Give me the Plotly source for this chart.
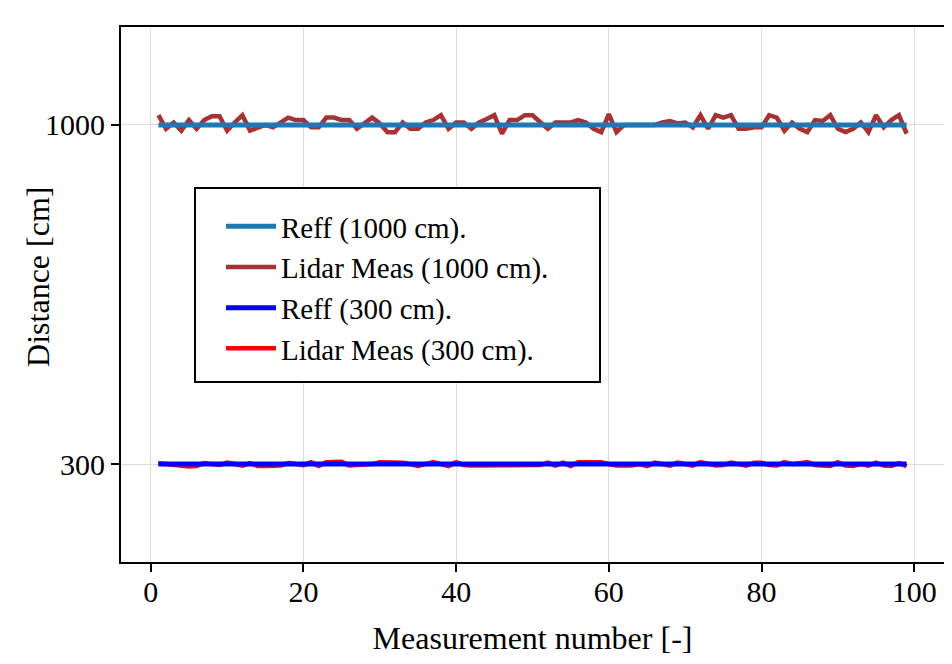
import plotly.graph_objects as go

measurement = list(range(1, 100))

ref_1000 = [1000] * 99
lidar_1000_dev = [
    20, -8, 5, -12, 10, -8, 10, 18, 18, -12, 5, 20, -12, -5, 0, -5, 5, 15, 10, 10,
    -5, -5, 15, 15, 10, 10, -8, 5, 15, 3, -15, -15, 5, -8, -8, 5, 10, 20, -8, 5,
    5, -8, 5, 12, 20, -18, 10, 10, 20, 20, 5, -8, 5, 5, 5, 10, 5, -8, -15, 22,
    -15, 0, 0, 0, 0, 0, 5, 8, 3, 5, -5, 20, -8, 20, 15, 20, -8, -8, -5, -5,
    20, 15, -12, 5, -8, -15, 10, 8, 20, -8, -15, -8, 5, -15, 20, -5, 10, 20, -18,
]
lidar_1000 = [1000 + d for d in lidar_1000_dev]

ref_300 = [300] * 99
lidar_300_dev = [
    2, 0, -3, -5, -5, -4, 2, 0, -2, 3, 0, -3, 2, -4, -4, -4, -3, 2, 0, -2,
    4, -4, 4, 4, 5, -3, -2, -3, 0, 4, 4, 4, 3, 0, -4, 0, 4, 0, -4, 4,
    -2, -3, -3, -3, -2, -3, -3, -3, -2, -2, -2, 3, -3, 3, -4, 4, 4, 4, 4, 0,
    -3, -3, -3, 0, -4, 3, 0, -3, 3, 0, -3, 4, 0, -3, -2, 3, 0, -3, 3, 3,
    -2, -3, 4, 0, 2, 4, -2, -3, -4, 4, -3, -4, 0, -3, 3, -3, -4, 2, -4,
]
lidar_300 = [300 + d for d in lidar_300_dev]

x_ticks = [0, 20, 40, 60, 80, 100]
y_ticks = [300, 1000]

font_family = "Liberation Serif, Times New Roman, serif"

fig = go.Figure()
fig.add_trace(go.Scatter(x=measurement, y=lidar_1000, mode="lines",
                         name="Lidar Meas (1000 cm).", legendrank=2,
                         line=dict(color="#a83232", width=4.5)))
fig.add_trace(go.Scatter(x=measurement, y=ref_1000, mode="lines",
                         name="Reff (1000 cm).", legendrank=1,
                         line=dict(color="#1f77b4", width=5)))
fig.add_trace(go.Scatter(x=measurement, y=lidar_300, mode="lines",
                         name="Lidar Meas (300 cm).", legendrank=4,
                         line=dict(color="#ff0000", width=4.5)))
fig.add_trace(go.Scatter(x=measurement, y=ref_300, mode="lines",
                         name="Reff (300 cm).", legendrank=3,
                         line=dict(color="#0000ff", width=5)))

axis_common = dict(
    showline=True, linecolor="black", linewidth=2, mirror=True,
    ticks="outside", ticklen=8, tickwidth=1.5, tickcolor="black",
    showgrid=True, gridcolor="#dcdcdc", gridwidth=1, zeroline=False,
    automargin=False,
    tickfont=dict(family=font_family, size=30, color="black"),
)

fig.update_xaxes(range=[-3.9, 103.9], tickvals=x_ticks, ticklabelstandoff=-6,
                 title=dict(text="Measurement number [-]",
                            font=dict(family=font_family, size=32, color="black"),
                            standoff=24),
                 **axis_common)
fig.update_yaxes(range=[98, 1202], tickvals=y_ticks, **axis_common)

# y-axis title as annotation (it sits partly over the tick-label column)
fig.add_annotation(text="Distance [cm]", xref="paper", yref="paper",
                   x=-0.1008, y=0.533, xanchor="center", yanchor="middle",
                   textangle=-90, showarrow=False,
                   font=dict(family=font_family, size=32, color="black"))

# legend frame
fig.add_shape(type="rect", xref="paper", yref="paper",
              x0=0.0899, x1=0.582, y0=0.3364, y1=0.699,
              line=dict(color="black", width=2), fillcolor="white", layer="above")

fig.update_layout(
    width=936, height=648,
    margin=dict(l=113, r=0, t=19, b=94),
    paper_bgcolor="white", plot_bgcolor="white",
    showlegend=True,
    legend=dict(x=0.1215, y=0.675, xanchor="left", yanchor="top",
                bgcolor="rgba(0,0,0,0)", borderwidth=0, itemwidth=50,
                font=dict(family=font_family, size=29, color="black"),
                tracegroupgap=0),
)

fig.write_html("out.html")
